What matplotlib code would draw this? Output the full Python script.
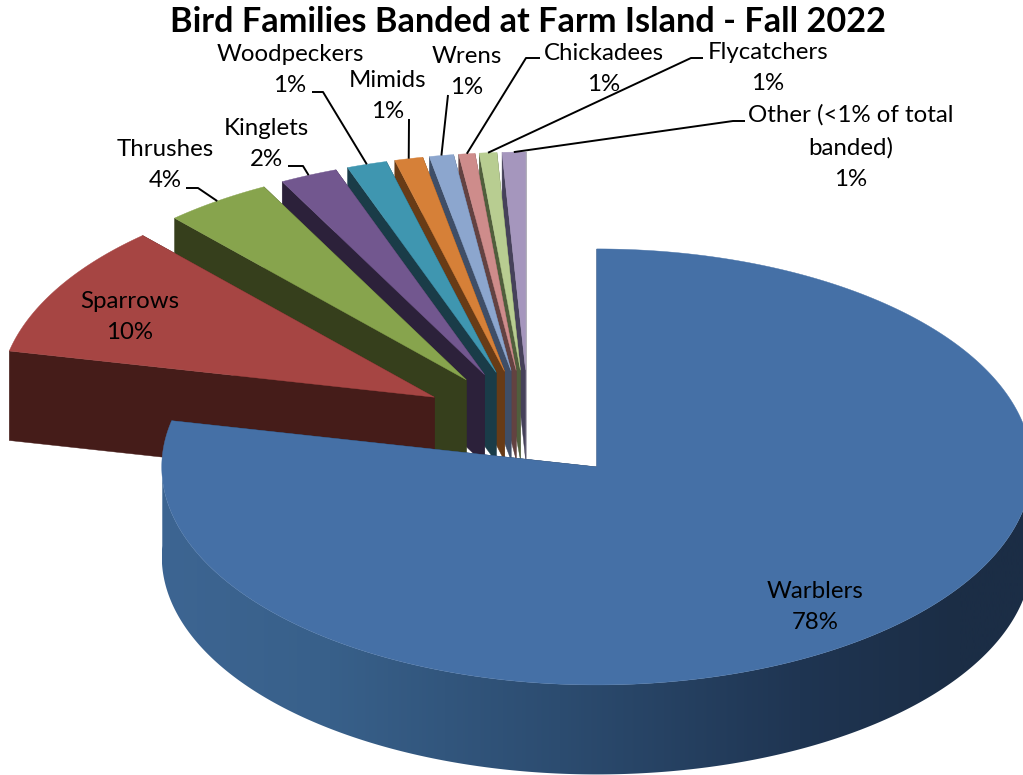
import numpy as np
import matplotlib
matplotlib.use("Agg")
import matplotlib.pyplot as plt
from matplotlib.patches import Polygon
from matplotlib.colors import to_rgb

# ---- data (clockwise from 12 o'clock) ----
families = ["Warblers", "Sparrows", "Thrushes", "Kinglets", "Woodpeckers",
            "Mimids", "Wrens", "Chickadees", "Flycatchers", "Other (<1% of total\nbanded)"]
shares = [78.4, 9.9, 4.0, 2.15, 1.49, 1.05, 0.9, 0.6, 0.65, 0.86]
pct_labels = ["78%", "10%", "4%", "2%", "1%", "1%", "1%", "1%", "1%", "1%"]
top_colors = ["#4570A6", "#A64543", "#87A44D", "#72578F", "#3F96B0",
              "#D68038", "#8CA6CE", "#CE8C8B", "#B8CD91", "#A596BD"]
wall_colors = ["#1B2D45", "#451C19", "#363F1C", "#2C213A", "#1A3C48",
               "#683B16", "#3F4E67", "#634241", "#505E3C", "#46415A"]
wall_gradient_x = [162, 330, 560, 800, 960, 1040]
wall_gradient_c = ["#3D6592", "#38608A", "#2C4C70", "#1F3552", "#1B2D45", "#1B2D45"]

# ---- layout (pixels) ----
W, H = 1023, 775
CX, CY = 528.5, 424.5  # undisplaced pie centre
RX, RY = 435, 218      # ellipse radii of top face
DEPTH = 89.5
EXPLODE = 0.25

plt.rcParams['font.family'] = ['Lato', 'DejaVu Sans']
fig = plt.figure(figsize=(W / 100, H / 100), dpi=100, facecolor="white")
ax = fig.add_axes([0, 0, 1, 1])

values = np.array(shares, float)
edges = np.concatenate([[0], np.cumsum(values)]) / values.sum() * 2 * np.pi
mids = (edges[:-1] + edges[1:]) / 2


def pt(cx, cy, a):
    a = np.asarray(a)
    return cx + RX * np.sin(a), cy - RY * np.cos(a)


def apex(i):
    return CX + EXPLODE * RX * np.sin(mids[i]), CY - EXPLODE * RY * np.cos(mids[i])


def wall_gradient():
    xs = np.linspace(wall_gradient_x[0], wall_gradient_x[-1], 400)
    rgb = [to_rgb(c) for c in wall_gradient_c]
    return np.array([[np.interp(x, wall_gradient_x, [c[k] for c in rgb]) for k in range(3)] for x in xs])[None, :, :]


for order, i in enumerate(range(len(values) - 1, -1, -1)):
    ax0, ay0 = apex(i)
    a0, a1 = edges[i], edges[i + 1]
    z = 2 + order * 3
    # radial walls
    for a in (a0, a1):
        ox, oy = pt(ax0, ay0, a)
        ax.add_patch(Polygon([(ax0, ay0), (ox, oy), (ox, oy + DEPTH), (ax0, ay0 + DEPTH)],
                             closed=True, fc=wall_colors[i], ec=wall_colors[i], lw=0.3, zorder=z))
    t = np.linspace(a0, a1, max(int((a1 - a0) / 0.005), 2))
    xs, ys = pt(ax0, ay0, t)
    # outer round wall, only the largest slice shows it
    if i == 0:
        front = np.cos(t) < 0.05
        fx, fy = xs[front], ys[front]
        wall = np.vstack([np.column_stack([fx, fy]), np.column_stack([fx[::-1], fy[::-1] + DEPTH])])
        clip = Polygon(wall, closed=True, transform=ax.transData, fc="none", ec="none")
        ax.add_patch(clip)
        im = ax.imshow(wall_gradient(), extent=(wall_gradient_x[0], wall_gradient_x[-1], H, 0),
                       aspect="auto", zorder=z, interpolation="bilinear")
        im.set_clip_path(clip)
    # top face
    top = [(ax0, ay0)] + list(zip(xs, ys))
    ax.add_patch(Polygon(top, closed=True, fc=top_colors[i], ec=top_colors[i], lw=0.3, zorder=z + 1))

ax.set_xlim(0, W)
ax.set_ylim(H, 0)
ax.axis("off")

# ---- title ----
ax.text(528, 22, "Bird Families Banded at Farm Island - Fall 2022", ha="center", va="center",
        fontsize=24.7, fontweight="bold", color="black", zorder=100)

# ---- labels: centre of each text block ----
label_pos = [(815, 607), (130, 317), (165, 165), (266, 144), (290, 70),
             (388, 96), (467, 72), (604, 69), (768, 68), (851, 147)]
# elbow points of each leader line, running from the label towards the slice
leaders = [None, None, [(186, 188), (198, 188)], [(288, 166), (303, 166)],
           [(312, 92), (323, 92)], [(409, 119)], [(448, 95)], [(540, 58), (526, 58)],
           [(703, 58), (691, 58)], [(745, 121), (733, 121)]]

for i, (name, pct) in enumerate(zip(families, pct_labels)):
    x, y = label_pos[i]
    ax.text(x, y, f"{name}\n{pct}", ha="center", va="center", fontsize=17.3,
            linespacing=1.63, color="black", zorder=101)
    if leaders[i]:
        ax0, ay0 = apex(i)
        tip = pt(ax0, ay0, mids[i])
        pts = leaders[i] + [(float(tip[0]), float(tip[1]))]
        ax.plot([p[0] for p in pts], [p[1] for p in pts], color="black", lw=1.4, zorder=100,
                solid_capstyle="butt")

fig.savefig("out.png", dpi=100, facecolor="white")
